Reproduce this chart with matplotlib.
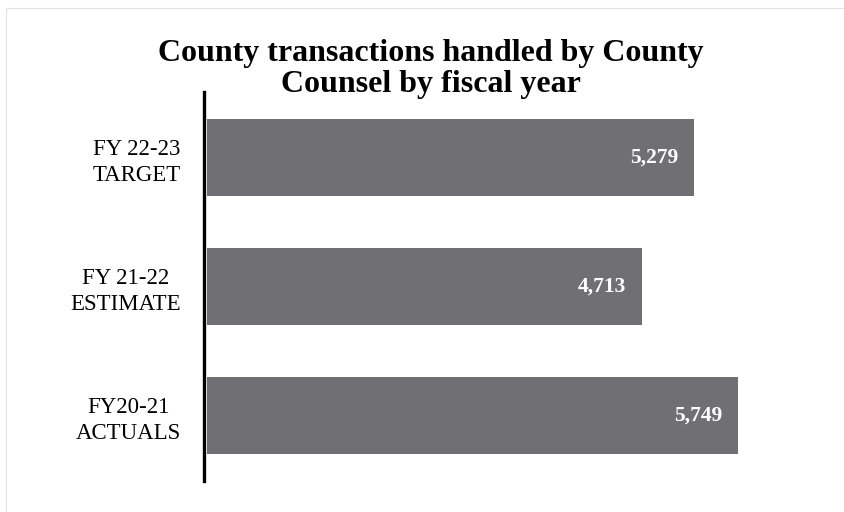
import matplotlib as mpl
import matplotlib.pyplot as plt
from matplotlib.patches import Rectangle

mpl.use('Agg')

categories = ['FY 22-23\nTARGET', 'FY 21-22\nESTIMATE', 'FY20-21\nACTUALS']
values = [5279, 4713, 5749]
title = 'County transactions handled by County\nCounsel by fiscal year'

serif = ['Liberation Serif', 'DejaVu Serif']
bar_color = '#707074'

fig = plt.figure(figsize=(8.44, 5.12), dpi=100)
fig.patch.set_facecolor('white')

# faint page border like the scanned original
fig.add_artist(Rectangle((6 / 844, -0.01), 1.0, 1 - 8 / 512 + 0.01,
                         transform=fig.transFigure, fill=False,
                         edgecolor='#e2e2e2', linewidth=0.8))

ax = fig.add_axes([207 / 844, 1 - 481 / 512, (800 - 207) / 844, (481 - 92) / 512])
positions = list(range(len(categories)))
ax.barh(positions, values, height=0.6, color=bar_color, edgecolor='none')
ax.set_ylim(2.51, -0.51)
ax.set_xlim(0, 6425)

for spine in ('top', 'right', 'bottom'):
    ax.spines[spine].set_visible(False)
ax.spines['left'].set_linewidth(2.4)
ax.spines['left'].set_color('black')
ax.spines['left'].set_position(('outward', 2))

ax.set_xticks([])
ax.set_yticks(positions)
ax.set_yticklabels(categories, family=serif, fontsize=16.5, multialignment='center',
                   linespacing=1.3)
ax.tick_params(axis='y', length=0, pad=17)

for pos, val in zip(positions, values):
    ax.text(val - 170, pos, f'{val:,}', ha='right', va='center', color='white',
            family=serif, fontsize=15.5, fontweight='bold')

fig.text(431 / 844, 1 - 69 / 512, title, ha='center', va='center', family=serif,
         fontsize=23, fontweight='bold', linespacing=1.1)

fig.savefig('out.png', dpi=100)
